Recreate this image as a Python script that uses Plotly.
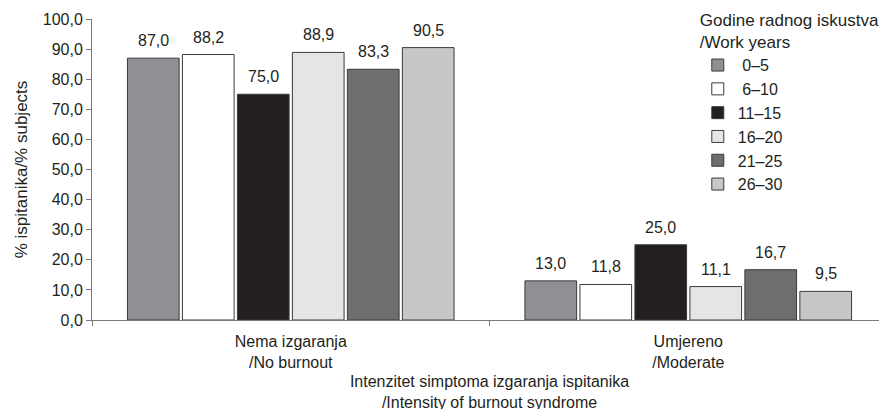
import plotly.graph_objects as go

categories = ["Nema izgaranja<br>/No burnout", "Umjereno<br>/Moderate"]
series_names = ["0–5", "6–10", "11–15", "16–20", "21–25", "26–30"]
values = {
    "0–5": [87.0, 13.0],
    "6–10": [88.2, 11.8],
    "11–15": [75.0, 25.0],
    "16–20": [88.9, 11.1],
    "21–25": [83.3, 16.7],
    "26–30": [90.5, 9.5],
}
colors = ["#8f9093", "#ffffff", "#231f20", "#e4e5e7", "#6d6e70", "#c6c7c9"]
y_ticks = [0, 10, 20, 30, 40, 50, 60, 70, 80, 90, 100]

FONT = "Liberation Sans, Arial, sans-serif"
BARGAP = 0.17
GROUPGAP = 0.06

fig = go.Figure()
n = len(series_names)
slot = (1 - BARGAP) / n
for i, (name, col) in enumerate(zip(series_names, colors)):
    fig.add_trace(go.Bar(
        x=categories, y=values[name], name=" " + name if name in ("0–5", "6–10") else name,
        marker=dict(color=col, line=dict(color="#3a3a3a", width=1)),
        cliponaxis=False,
    ))
    # value labels above each bar, placed on the same category scale
    off = -(1 - BARGAP) / 2 + (i + 0.5) * slot
    for ci, v in enumerate(values[name]):
        fig.add_annotation(
            x=ci + off, y=v, xref="x", yref="y", text=f"{v:.1f}".replace(".", ","),
            showarrow=False, yanchor="bottom", xanchor="center", yshift=7,
            font=dict(size=16, color="#231f20", family=FONT),
        )

fig.update_layout(
    width=887, height=409,
    margin=dict(l=84, r=8, t=11, b=97, autoexpand=False),
    paper_bgcolor="white", plot_bgcolor="white",
    separators=",.",
    barmode="group", bargap=BARGAP, bargroupgap=GROUPGAP,
    font=dict(family=FONT, size=16, color="#231f20"),
    showlegend=True,
    legend=dict(
        x=0.762, y=1.05, xanchor="left", yanchor="top",
        title=dict(text="Godine radnog iskustva<br>/Work years", font=dict(size=17, family=FONT)),
        font=dict(size=16, family=FONT),
        bgcolor="rgba(0,0,0,0)", tracegroupgap=0, itemwidth=30,
    ),
    xaxis=dict(
        range=[-0.5, 1.5], showline=True, linecolor="#7a7a7a", linewidth=1,
        ticks="outside", tickson="boundaries", ticklen=5, tickcolor="#7a7a7a",
        tickfont=dict(size=16, family=FONT), automargin=False, ticklabelstandoff=7,
        title=dict(text="Intenzitet simptoma izgaranja ispitanika<br>/Intensity of burnout syndrome",
                   font=dict(size=16, family=FONT), standoff=5),
        fixedrange=True,
    ),
    yaxis=dict(
        range=[0, 100], tickvals=y_ticks, tickformat=".1f",
        showline=True, linecolor="#7a7a7a", linewidth=1,
        ticks="outside", ticklen=5, tickcolor="#7a7a7a",
        showgrid=False, zeroline=False, automargin=False,
        tickfont=dict(size=16, family=FONT),
        title=dict(text="% ispitanika/% subjects", font=dict(size=17, family=FONT), standoff=10),
    ),
)

fig.write_html("out.html")
